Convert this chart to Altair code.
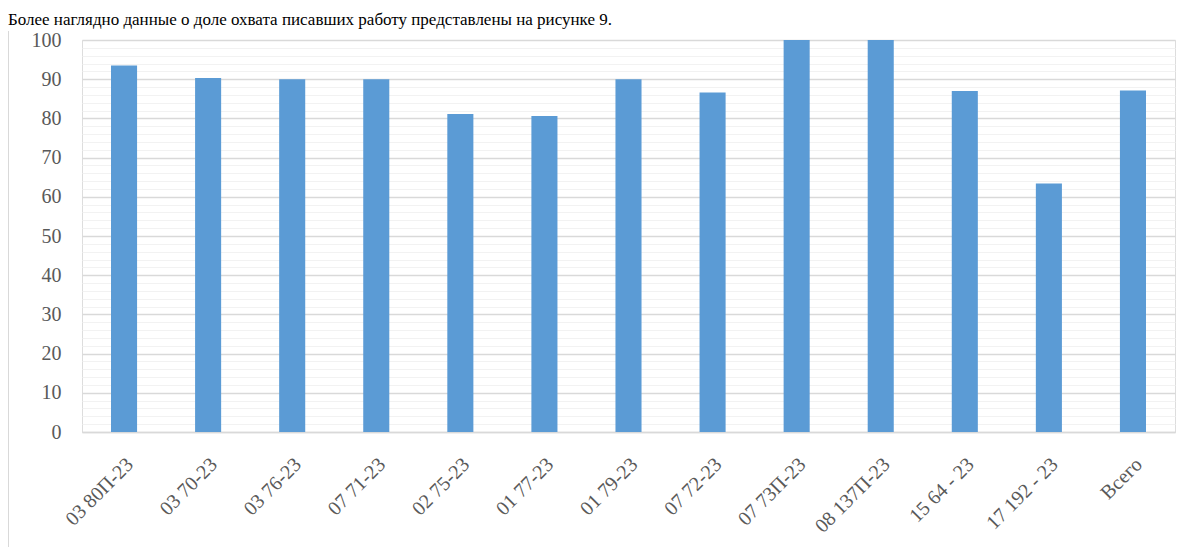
import altair as alt
import pandas as pd

categories = ["03 80П-23", "03 70-23", "03 76-23", "07 71-23", "02 75-23", "01 77-23",
              "01 79-23", "07 72-23", "07 73П-23", "08 137П-23", "15 64 - 23",
              "17 192 - 23", "Всего"]
values = [93.5, 90.3, 90.0, 90.0, 81.1, 80.6, 90.0, 86.6, 100.0, 100.0, 87.0, 63.4, 87.1]
y_ticks = list(range(0, 101, 2))
caption = "Более наглядно данные о доле охвата писавших работу представлены на рисунке 9."

df = pd.DataFrame({"group": categories, "value": values})

FONT = "Liberation Serif, DejaVu Serif, serif"
LABEL = "#595959"

bars = alt.Chart(df).mark_bar(color="#5B9BD5").encode(
    x=alt.X(
        "group:N", sort=categories, title=None,
        scale=alt.Scale(paddingInner=0.69, paddingOuter=0.345),
        axis=alt.Axis(
            labelAngle=-45, labelAlign="right", labelBaseline="middle",
            labelPadding=29, labelOffset=6, ticks=False, tickSize=0,
            domainColor="#d9d9d9", domainWidth=1.5, grid=False,
            labelFont=FONT, labelFontSize=20, labelColor=LABEL,
            labelOverlap=False, labelLimit=0, labelBound=False,
        ),
    ),
    y=alt.Y(
        "value:Q", title=None,
        scale=alt.Scale(domain=[0, 100], nice=False),
        axis=alt.Axis(
            values=y_ticks,
            labelExpr="datum.value % 10 === 0 ? datum.label : ''",
            ticks=False, tickSize=0, domain=False, labelPadding=21,
            gridColor={"condition": {"test": "datum.value % 10 === 0", "value": "#d9d9d9"},
                       "value": "#f2f2f2"},
            gridWidth={"condition": {"test": "datum.value % 10 === 0", "value": 1.5},
                       "value": 1.2},
            labelFont=FONT, labelFontSize=20, labelColor=LABEL,
            labelOverlap=False,
        ),
    ),
)

caption_src = alt.Data(values=[{"t": caption}])
caption_text = alt.Chart(caption_src).mark_text(
    font=FONT, fontSize=17, color="black", align="left", baseline="alphabetic"
).encode(text="t:N", x=alt.value(-74), y=alt.value(-15))

left_border = alt.Chart(caption_src).mark_rule(color="#d9d9d9", strokeWidth=1).encode(
    x=alt.value(-73.5), y=alt.value(-9), y2=alt.value(520)
)

chart = alt.layer(bars, left_border, caption_text).properties(
    width=1093,
    height=392,
    autosize=alt.AutoSizeParams(type="none"),
    padding={"left": 74, "top": 32, "right": 9, "bottom": 115},
).configure_view(stroke=None).configure(background="white", font=FONT)

chart.save("out.html", embed_options={"renderer": "svg", "actions": False})
